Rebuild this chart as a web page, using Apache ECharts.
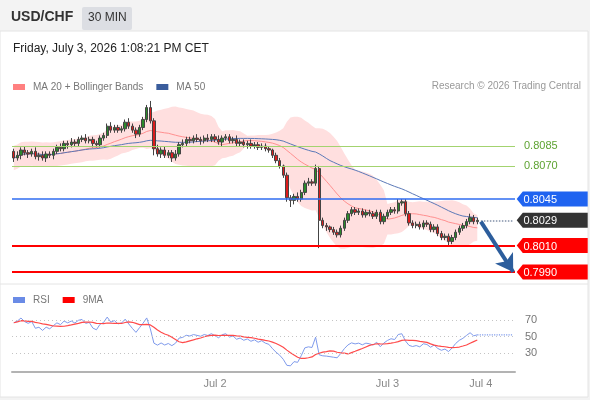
<!DOCTYPE html>
<html>
<head>
<meta charset="utf-8">
<script src="https://cdn.jsdelivr.net/npm/echarts@6/dist/echarts.min.js"></script>
<style>
html,body{margin:0;padding:0;background:#f3f3f3;}
#main{width:590px;height:400px;}
</style>
</head>
<body>
<div id="main"></div>
<script>
// 30 min USD/CHF closes
var closes = [
0.8076,0.8078,0.8082,0.8080,0.8079,0.8081,0.8077,0.8078,0.8076,0.8079,
0.8078,0.8081,0.8084,0.8083,0.8087,0.8086,0.8088,0.8087,0.8090,0.8091,
0.8089,0.8090,0.8087,0.8086,0.8091,0.8093,0.8100,0.8097,0.8099,0.8097,
0.8098,0.8103,0.8100,0.8097,0.8094,0.8099,0.8105,0.8114,0.8104,0.8083,
0.8079,0.8082,0.8078,0.8080,0.8076,0.8079,0.8086,0.8087,0.8090,0.8089,
0.8091,0.8090,0.8089,0.8091,0.8090,0.8092,0.8090,0.8088,0.8091,0.8092,
0.8089,0.8090,0.8087,0.8088,0.8086,0.8087,0.8085,0.8086,0.8084,0.8085,
0.8083,0.8082,0.8078,0.8074,0.8070,0.8063,0.8046,0.8044,0.8047,0.8045,
0.8050,0.8057,0.8058,0.8057,0.8068,0.8029,0.8025,0.8024,0.8022,0.8020,
0.8018,0.8023,0.8029,0.8034,0.8037,0.8035,0.8036,0.8033,0.8035,0.8034,
0.8032,0.8035,0.8028,0.8032,0.8035,0.8037,0.8036,0.8042,0.8043,0.8034,
0.8027,0.8025,0.8026,0.8024,0.8027,0.8026,0.8022,0.8024,0.8019,0.8016,
0.8017,0.8013,0.8016,0.8020,0.8023,0.8025,0.8028,0.8031,0.8028,0.8029
];
var firstOpen = 0.8081;
// wick lengths in pips above / below the body
var upWick = [
2,3,2,3,2,2,3,2,3,2, 2,2,2,3,2,2,3,2,2,2, 3,2,2,2,2,2,2,3,2,2,
2,2,3,2,2,2,2,2,5,2, 3,2,3,2,2,3,2,3,2,2, 2,3,2,2,3,2,2,3,2,2,
2,2,3,2,2,2,3,2,2,2, 2,2,1,2,2,1,2,2,2,3, 2,2,3,2,3,2,2,2,1,2,
2,2,2,2,2,2,2,2,2,2, 2,2,2,2,2,2,2,3,2,2, 2,2,2,2,2,2,2,2,2,2,
2,2,2,2,2,2,2,3,2,2
];
var downWick = [
3,2,3,2,3,2,2,3,2,3, 2,3,2,2,2,3,2,2,2,2, 2,2,3,2,2,2,2,2,2,2,
2,2,2,2,3,2,2,2,2,5, 2,3,2,2,3,2,2,2,2,2, 2,2,3,2,2,2,2,2,3,2,
2,2,2,2,2,3,2,2,2,2, 2,2,2,2,2,2,3,5,3,2, 2,2,2,2,2,21,2,3,2,2,
2,2,2,2,2,2,2,2,2,2, 2,2,2,2,2,2,2,2,2,2, 2,2,2,2,2,2,2,2,2,2,
2,4,2,2,2,2,2,2,2,2
];
var greenLevels = [0.8085, 0.8070];
var pivotLevel = 0.8045;
var redLevels = [0.8010, 0.7990];
var lastPrice = 0.8029;
var arrowTarget = 0.7990;
var dayTicks = {56: 'Jul 2', 104: 'Jul 3', 130: 'Jul 4'};
var slotCount = 140;
var rsiLevels = [30, 50, 70];

var pip = 0.0001;
var n = closes.length;
var cats = [];
for (var k = 0; k < slotCount; k++) cats.push(String(k));

var candles = [];
for (var i = 0; i < n; i++) {
	var o = i == 0 ? firstOpen : closes[i - 1];
	var c = closes[i];
	candles.push([o, c, +(Math.min(o, c) - downWick[i] * pip).toFixed(5), +(Math.max(o, c) + upWick[i] * pip).toFixed(5)]);
}

function mean(a) { var s = 0; for (var j = 0; j < a.length; j++) s += a[j]; return s / a.length; }
function sma(src, len) {
	return src.map(function (v, i) { return mean(src.slice(Math.max(0, i - len + 1), i + 1)); });
}
var ma20 = sma(closes, 20);
var ma50 = sma(closes, 50);
// bollinger: 2 std, first 20 bars used as window until 20 bars exist
var bbLow = [], bbWidth = [];
for (var i = 0; i < n; i++) {
	var s = Math.max(0, i - 19), e = Math.max(i, 19);
	var w = closes.slice(s, e + 1), m = mean(w);
	var v = mean(w.map(function (x) { return (x - m) * (x - m); }));
	var sd = Math.sqrt(v);
	bbLow.push(+(ma20[i] - 2 * sd).toFixed(6));
	bbWidth.push(+(4 * sd).toFixed(6));
}

// RSI 14 (wilder), seeded from the first 14 changes
var gains = [], losses = [];
for (var i = 1; i < n; i++) {
	var d = closes[i] - closes[i - 1];
	gains.push(Math.max(d, 0)); losses.push(Math.max(-d, 0));
}
var ag = mean(gains.slice(0, 14)), al = mean(losses.slice(0, 14));
var rsi = [+(100 - 100 / (1 + ag / al)).toFixed(2)];
for (var i = 1; i < n; i++) {
	ag = (ag * 13 + gains[i - 1]) / 14;
	al = (al * 13 + losses[i - 1]) / 14;
	rsi.push(+(al == 0 ? 100 : 100 - 100 / (1 + ag / al)).toFixed(2));
}
var rsiMa = sma(rsi, 9).map(function (x) { return +x.toFixed(2); });
var rsiExt = [];
for (var k = 0; k < slotCount; k++) rsiExt.push(k == n - 1 || k == slotCount - 1 ? rsi[n - 1] : null);

var font = 'Liberation Sans, Arial, sans-serif';
var boxPath = 'path://M0,7L6,0L70,0L70,14L6,14Z';
function box(val, color) {
	return {
		coord: [slotCount - 1, val], value: val,
		symbol: boxPath, symbolKeepAspect: false, symbolSize: [71, 15], symbolOffset: [39, 0],
		itemStyle: {color: color},
		label: {show: true, color: '#fff', fontSize: 11, fontFamily: font, offset: [-12, 1],
			formatter: val.toFixed(4)}
	};
}

var levelLines = [];
greenLevels.forEach(function (v) {
	levelLines.push({yAxis: v, lineStyle: {color: '#a3d36f', width: 1, type: 'solid'},
		label: {show: true, position: 'end', distance: 9, color: '#5ea332', fontSize: 11, fontFamily: font,
			formatter: v.toFixed(4)}});
});
levelLines.push({yAxis: pivotLevel, lineStyle: {color: '#2f6cf0', width: 1.6, type: 'solid'}, label: {show: false}});
redLevels.forEach(function (v) {
	levelLines.push({yAxis: v, lineStyle: {color: '#ff0000', width: 2, type: 'solid'}, label: {show: false}});
});
levelLines.push([
	{coord: [n, lastPrice], lineStyle: {color: '#8190a8', width: 1.5, type: 'dotted'}, label: {show: false}},
	{coord: [slotCount - 1, lastPrice]}
]);
levelLines.push([
	{coord: [n, lastPrice - 0.0001], symbol: 'none', lineStyle: {color: '#2c5d9c', width: 4, type: 'solid'}, label: {show: false}},
	{coord: [slotCount - 1, arrowTarget], symbol: 'arrow', symbolSize: [16, 17]}
]);

var myChart = echarts.init(document.getElementById('main'));
var option = {
	animation: false,
	textStyle: {fontFamily: font},
	graphic: [
		{type: 'rect', shape: {x: 0, y: 31, width: 588, height: 366}, style: {fill: '#fff', stroke: '#e4e4e4'}, z: -10},
		{type: 'text', left: 11, top: 10, style: {text: 'USD/CHF', font: 'bold 14px ' + font, fill: '#333'}},
		{type: 'rect', shape: {x: 82, y: 7, width: 50, height: 23, r: 2}, style: {fill: '#dcdee3'}},
		{type: 'text', left: 88, top: 12, style: {text: '30 MIN', font: '12px ' + font, fill: '#333'}},
		{type: 'text', left: 13, top: 43, style: {text: 'Friday, July 3, 2026 1:08:21 PM CET', font: '12px ' + font, fill: '#222'}},
		{type: 'text', right: 9, top: 81, style: {text: 'Research \u00a9 2026 Trading Central', font: '10px ' + font, fill: '#999'}},
		{type: 'line', shape: {x1: 0, y1: 284, x2: 588, y2: 284}, style: {stroke: '#e4e4e4', lineWidth: 1}}
	],
	legend: [
		{data: ['MA 20 + Bollinger Bands', 'MA 50'], left: 13, top: 82, padding: 0, icon: 'rect', itemWidth: 12, itemHeight: 6,
			itemGap: 13, textStyle: {color: '#777', fontSize: 10, padding: [0, 0, 0, 3]}, selectedMode: false},
		{data: ['RSI', '9MA'], left: 13, top: 295, padding: 0, icon: 'rect', itemWidth: 12, itemHeight: 6,
			itemGap: 13, textStyle: {color: '#777', fontSize: 10, padding: [0, 0, 0, 3]}, selectedMode: false}
	],
	grid: [
		{left: 12, right: 75, top: 95, height: 188},
		{left: 12, right: 75, top: 305, height: 66.6}
	],
	xAxis: [
		{type: 'category', gridIndex: 0, data: cats, show: false},
		{type: 'category', gridIndex: 1, data: cats,
			axisLine: {lineStyle: {color: '#b3b3b3', width: 2}},
			axisTick: {show: false},
			axisLabel: {color: '#888', fontSize: 11, margin: 7,
				interval: function (idx) { return dayTicks[idx] !== undefined; },
				formatter: function (val, idx) { return dayTicks[idx] || ''; }}
		}
	],
	yAxis: [
		{type: 'value', gridIndex: 0, min: 0.79817, max: 0.81235, show: false},
		{type: 'value', gridIndex: 1, min: 8, max: 88, show: false}
	],
	series: [
		{name: 'bbLow', type: 'line', data: bbLow, stack: 'bb', symbol: 'none', lineStyle: {opacity: 0}, z: 1},
		{name: 'bbWidth', type: 'line', data: bbWidth, stack: 'bb', symbol: 'none', lineStyle: {opacity: 0},
			areaStyle: {color: '#ffdfdf', opacity: 1}, z: 1},
		{name: 'MA 20 + Bollinger Bands', type: 'line', data: ma20, symbol: 'none', z: 2,
			itemStyle: {color: '#ff8080'}, lineStyle: {color: '#ff9090', width: 1}},
		{name: 'MA 50', type: 'line', data: ma50, symbol: 'none', z: 2,
			itemStyle: {color: '#3a5d9c'}, lineStyle: {color: '#5b79b8', width: 1}},
		{name: 'USD/CHF', type: 'candlestick', data: candles, barWidth: '80%', z: 3,
			itemStyle: {color: '#2a8a2a', color0: '#dc1c1c', borderColor: '#444', borderColor0: '#444', borderWidth: 1},
			markLine: {silent: true, precision: 5, symbol: ['none', 'none'], data: levelLines},
			markPoint: {silent: true, data: [
				box(pivotLevel, '#1f63f0'),
				box(lastPrice, '#333333'),
				box(redLevels[0], '#ff0000'),
				box(redLevels[1], '#ff0000')
			]}
		},
		{name: 'RSI', type: 'line', xAxisIndex: 1, yAxisIndex: 1, data: rsi, symbol: 'none',
			itemStyle: {color: '#6a8be6'}, lineStyle: {color: '#7f9bec', width: 1},
			markLine: {silent: true, symbol: ['none', 'none'],
				data: rsiLevels.map(function (v) {
					return {yAxis: v, lineStyle: {color: '#c4c4c4', width: 1, type: [1, 3]},
						label: {show: true, position: 'end', distance: 10, color: '#777', fontSize: 11, formatter: String(v)}};
				})}
		},
		{name: '9MA', type: 'line', xAxisIndex: 1, yAxisIndex: 1, data: rsiMa, symbol: 'none',
			itemStyle: {color: '#ff0000'}, lineStyle: {color: '#ff4a4a', width: 1.2}},
		{name: 'rsiExt', type: 'line', xAxisIndex: 1, yAxisIndex: 1, data: rsiExt, symbol: 'none', connectNulls: true,
			lineStyle: {color: '#7f9bec', width: 1.2, type: 'dotted'}}
	]
};
myChart.setOption(option);
</script>
</body>
</html>
